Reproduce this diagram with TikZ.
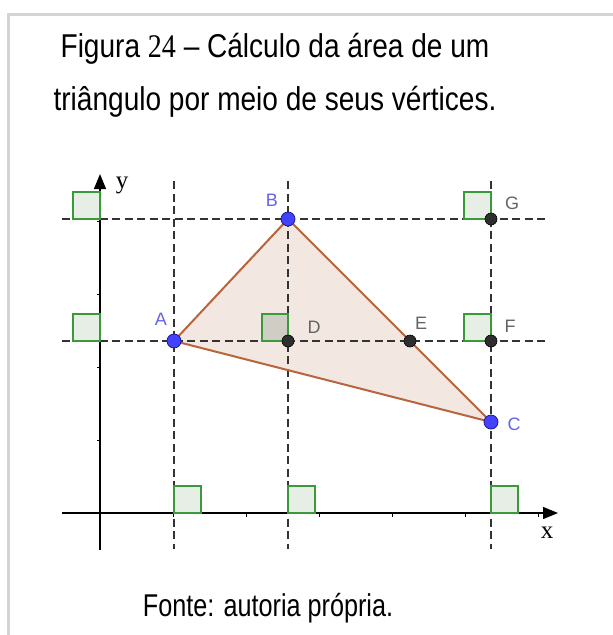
\documentclass[tikz,border=0pt]{standalone}
\usepackage{fontspec}
\setmainfont{Liberation Sans}
\newfontfamily\timesf{Liberation Serif}
\newfontfamily\titlef[FakeStretch=0.85]{Liberation Sans}
\newfontfamily\titletimesf[FakeStretch=0.85]{Liberation Serif}
\newfontfamily\footf[FakeStretch=0.8]{Liberation Sans}
\usetikzlibrary{arrows.meta}
\definecolor{bordergray}{HTML}{D4D4D4}
\definecolor{dashgray}{HTML}{333333}
\definecolor{trifill}{HTML}{F3E7E2}
\definecolor{tristroke}{HTML}{B8643C}
\definecolor{sqgreen}{HTML}{3A9A3A}
\definecolor{sqfill}{HTML}{E2ECE2}
\definecolor{ptblue}{HTML}{4343FF}
\definecolor{ptblueedge}{HTML}{1A1A8C}
\definecolor{lblblue}{HTML}{6464E6}
\definecolor{lblgray}{HTML}{646464}
\definecolor{ptblack}{HTML}{2E2E2E}
\tikzset{
  guide/.style={dashgray, line width=2.3pt, dash pattern=on 8pt off 4.5pt},
  axis/.style={black, line width=1.3pt},
  tick/.style={black, line width=1pt},
  sqmark/.style={draw=sqgreen, line width=2pt, fill=sqfill, fill opacity=0.85},
  bluept/.style={circle, fill=ptblue, draw=ptblueedge, line width=0.8pt, minimum size=14pt, inner sep=0pt},
  blackpt/.style={circle, fill=ptblack, draw=black, line width=0.6pt, minimum size=12pt, inner sep=0pt},
  bluelbl/.style={text=lblblue, font=\fontsize{18}{20}\selectfont},
  graylbl/.style={text=lblgray, font=\fontsize{18}{20}\selectfont},
  axlbl/.style={font=\timesf\fontsize{25}{26}\selectfont},
  titletext/.style={font=\titlef\fontsize{33}{38}\selectfont, anchor=base},
  foottext/.style={font=\footf\fontsize{31.5}{36}\selectfont, anchor=base}
}
\begin{document}
\begin{tikzpicture}[x=1pt,y=-1pt]
\useasboundingbox (0,0) rectangle (613,635);
\fill[white] (0,0) rectangle (613,635);
% frame
\draw[bordergray, line width=3pt] (8,640) -- (8,14) -- (616,14);
% title and source
\node[titletext] (t1) at (275,57) {Figura {\titletimesf 24} – Cálculo da área de um};
\node[titletext] (t2) at (275,110) {triângulo por meio de seus vértices.};
\node[foottext] (src) at (268,616) {Fonte: autoria própria.};
% coordinates
\coordinate (A) at (174,341);
\coordinate (B) at (288,219);
\coordinate (C) at (491,422);
\coordinate (D) at (288,341);
\coordinate (E) at (410,341);
\coordinate (F) at (491,341);
\coordinate (G) at (491,219);
\coordinate (O) at (100,513);
% triangle fill
\fill[trifill] (A) -- (B) -- (C) -- cycle;
% guide lines
\coordinate (h1l) at (62,219); \coordinate (h1r) at (545,219);
\coordinate (h2l) at (62,341); \coordinate (h2r) at (545,341);
\coordinate (v1t) at (174,181); \coordinate (v1b) at (174,549);
\coordinate (v2t) at (288,181); \coordinate (v2b) at (288,549);
\coordinate (v3t) at (491,181); \coordinate (v3b) at (491,549);
\draw[guide] (h1l) -- (h1r);
\draw[guide] (h2l) -- (h2r);
\draw[guide] (v1t) -- (v1b);
\draw[guide] (v2t) -- (v2b);
\draw[guide] (v3t) -- (v3b);
% axes
\coordinate (xl) at (62,513); \coordinate (xr) at (558,513);
\coordinate (yb) at (100,550); \coordinate (yt) at (100,174);
\draw[axis, -{Triangle[length=15pt,width=12pt]}] (xl) -- (xr);
\draw[axis, -{Triangle[length=15pt,width=12pt]}] (yb) -- (yt);
\foreach \k in {1,...,6} \draw[tick] (100+73*\k,513) -- ++(0,3.5);
\foreach \k in {1,...,4} \draw[tick] (100,513-73*\k) -- ++(-3.5,0);
\node[axlbl] (ylbl) at (122,185) {y};
\node[axlbl] (xlbl) at (547,533) {x};
% right angle marks
\draw[sqmark] (73,192) rectangle (100,219);
\draw[sqmark] (73,314) rectangle (100,341);
\draw[sqmark, fill opacity=0.25, fill=sqgreen!30!gray] (262,314) rectangle (288,341);
\draw[sqmark] (464,192) rectangle (491,219);
\draw[sqmark] (464,314) rectangle (491,341);
\draw[sqmark] (174,486) rectangle (201,513);
\draw[sqmark] (288,486) rectangle (315,513);
\draw[sqmark] (491,486) rectangle (518,513);
% triangle edges
\draw[tristroke, line width=2pt, line join=round] (A) -- (B) -- (C) -- cycle;
% points
\node[blackpt] (pD) at (D) {};
\node[blackpt] (pE) at (E) {};
\node[blackpt] (pF) at (F) {};
\node[blackpt] (pG) at (G) {};
\node[bluept] (pA) at (A) {};
\node[bluept] (pB) at (B) {};
\node[bluept] (pC) at (C) {};
% labels
\node[bluelbl] (lA) at (161,319) {A};
\node[bluelbl] (lB) at (272,200) {B};
\node[bluelbl] (lC) at (514,424) {C};
\node[graylbl] (lD) at (314,327) {D};
\node[graylbl] (lE) at (421,323) {E};
\node[graylbl] (lF) at (510,326) {F};
\node[graylbl] (lG) at (512,203) {G};
\end{tikzpicture}
\end{document}
